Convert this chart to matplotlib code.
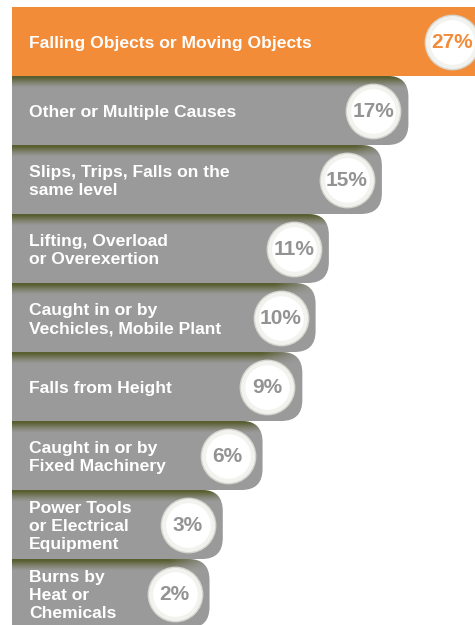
import numpy as np
import matplotlib
matplotlib.use("Agg")
import matplotlib.pyplot as plt
from matplotlib.patches import FancyBboxPatch

plt.rcParams['font.family'] = ['Liberation Sans', 'DejaVu Sans']

labels = ["Falling Objects or Moving Objects",
          "Other or Multiple Causes",
          "Slips, Trips, Falls on the\nsame level",
          "Lifting, Overload\nor Overexertion",
          "Caught in or by\nVechicles, Mobile Plant",
          "Falls from Height",
          "Caught in or by\nFixed Machinery",
          "Power Tools\nor Electrical\nEquipment",
          "Burns by\nHeat or\nChemicals"]
values = [27, 17, 15, 11, 10, 9, 6, 3, 2]

ORANGE = "#F28C38"
GREY = "#9A9A9A"
PCT_GREY = "#939393"

W, H = 475, 625
fig = plt.figure(figsize=(W / 100, H / 100), dpi=100)
# axes spans from x=12px to the right edge, from 7px below top to the bottom
ax = fig.add_axes([12 / W, 0, 1 - 12 / W, (H - 7) / H])
ax.set_axis_off()

px_per_unit = 13.26        # horizontal pixels per percentage point
bar_px = 69.0              # bar height in pixels
x0_px = 183 - 12           # where 0% falls inside the axes
xmin = -x0_px / px_per_unit
xmax = xmin + (W - 12) / px_per_unit
ax.set_xlim(xmin, xmax)
ax.set_ylim(-0.5 + (H - 7) / bar_px, -0.5)

aspect = px_per_unit / bar_px
r_px = 21
n = len(values)
patches = []
for i, v in enumerate(values):
    col = ORANGE if i == 0 else GREY
    left = xmin - 5
    p = FancyBboxPatch((left, i - 0.5), v - left, 1.0,
                       boxstyle=f"round,pad=0,rounding_size={r_px / px_per_unit}",
                       mutation_aspect=aspect, fc=col, ec="none", zorder=2 + i * 0.01)
    ax.add_patch(p)
    patches.append(p)

# drop shadow of each bar falling on the bar below
grad = np.clip(1.15 - np.linspace(0, 1, 60) * 1.15, 0, 1) ** 1.3
for i in range(1, n):
    above = values[i - 1]
    img = np.zeros((60, 200, 4))
    img[..., :3] = np.array([0.34, 0.36, 0.17])
    fade_x = np.clip((np.linspace(xmin, above, 200) - (above - 4.0)) / 3.0, 0, 1)
    img[..., 3] = 0.95 * grad[:, None] * (1 - fade_x)[None, :]
    im = ax.imshow(img, extent=(xmin, above, i - 0.5 + 12 / bar_px, i - 0.5),
                   aspect="auto", interpolation="bilinear", zorder=2.5 + i * 0.01)
    im.set_clip_path(patches[i])

# label circles
circ_off = 35 / px_per_unit
cx = np.minimum(np.array(values) - circ_off, xmax - 23 / px_per_unit)
ys = np.arange(n)
r_circ = 26.5 * 0.72
ax.scatter(cx, ys, s=(2 * (r_circ + 1.0)) ** 2, c="#D6D6D0", linewidths=0, zorder=5)
ax.scatter(cx, ys, s=(2 * r_circ) ** 2, c="#F2F2EF", linewidths=0, zorder=5.1)
ax.scatter(cx, ys, s=(2 * (r_circ - 3)) ** 2, c="white", linewidths=0, zorder=5.2)

for i, (lab, v) in enumerate(zip(labels, values)):
    ax.annotate(lab, xy=(0, i + 0.03), xycoords=("axes fraction", "data"),
                xytext=(17 * 0.72, 0), textcoords="offset points",
                ha="left", va="center", color="white", fontsize=12.6,
                fontweight="bold", linespacing=1.28, zorder=6)
    ax.text(cx[i], i + 0.02, f"{v}%", ha="center", va="center",
            color=ORANGE if i == 0 else PCT_GREY, fontsize=15,
            fontweight="bold", zorder=6)

fig.savefig("out.png", dpi=100)
